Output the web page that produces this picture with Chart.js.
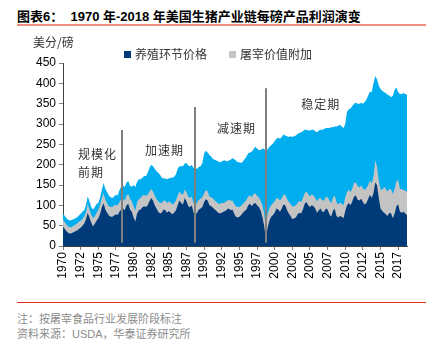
<!DOCTYPE html>
<html>
<head>
<meta charset="utf-8">
<script src="https://cdn.jsdelivr.net/npm/chart.js@4.4.0/dist/chart.umd.min.js"></script>
<style>
  body { margin: 0; width: 437px; height: 347px; background: #fff; position: relative; overflow: hidden;
         font-family: "Liberation Sans", "Noto Sans CJK SC", sans-serif; }
  #title { position: absolute; left: 17px; top: 6px; font-size: 13px; font-weight: bold; color: #000; white-space: nowrap; }
  #topline { position: absolute; left: 17px; top: 24px; width: 409px; height: 2px; background: #f28b82; }
  #box { position: absolute; left: 0; top: 30px; width: 437px; height: 268px; }
  #botline { position: absolute; left: 17px; top: 302px; width: 409px; height: 1px; background: #e0301e; }
  .note { position: absolute; left: 17px; font-size: 11px; color: #8c8c8c; white-space: nowrap; }
</style>
</head>
<body>
<div id="title">图表6：&nbsp; 1970 年-2018 年美国生猪产业链每磅产品利润演变</div>
<div id="topline"></div>
<div id="box"><canvas id="myChart" width="437" height="268"></canvas></div>
<div id="botline"></div>
<div class="note" style="top:310px">注：按屠宰食品行业发展阶段标注</div>
<div class="note" style="top:325px">资料来源：USDA，华泰证券研究所</div>
<script>
// quarterly values, cents per pound, 1970Q1 .. 2018Q4
const farmValue = [
  48,42,36,32, 30,32,34,36, 38,42,45,50, 55,65,82,70, 58,48,55,62,
  68,78,95,105, 90,82,75,72, 72,75,78,76, 84,90,92,88, 100,104,90,84,
  70,60,80,88, 90,95,98,96, 100,110,118,112, 100,92,84,80, 82,90,88,82,
  86,82,78,82, 88,100,112,106, 102,118,110,98, 95,100,82,78, 82,90,92,96,
  108,115,112,100, 98,94,90,86, 82,80,82,84, 86,90,92,88, 90,80,72,70,
  72,76,82,86, 90,100,104,98, 104,106,100,96, 88,72,50,18, 45,62,72,76,
  82,92,90,84, 92,102,100,88, 80,74,66,68, 70,78,82,80, 90,104,108,100,
  96,100,98,92, 82,88,92,84, 84,92,90,78, 72,86,92,74, 70,74,72,68,
  86,100,106,100, 110,122,124,114, 112,116,108,102, 106,116,126,118, 130,156,150,118,
  92,86,82,78, 74,82,80,68, 80,98,102,84, 82,84,80,76
];
const slaughterAdd = [
  16,17,16,16, 16,15,16,17, 17,18,17,17, 17,18,21,20, 19,20,18,20,
  20,22,23,25, 24,23,23,24, 24,25,23,24, 24,25,24,23, 24,24,26,26,
  28,27,28,27, 28,29,27,28, 26,24,22,22, 24,23,26,26, 24,22,23,24,
  24,25,24,23, 24,24,22,22, 24,21,22,24, 23,22,24,25, 24,23,24,24,
  22,23,22,21, 22,23,22,22, 22,24,24,22, 22,21,22,23, 22,24,26,26,
  24,23,22,22, 24,22,21,22, 24,24,23,24, 24,28,30,27, 35,30,28,30,
  28,26,27,28, 26,24,26,28, 28,30,31,30, 30,28,29,28, 28,26,26,27,
  26,27,26,26, 28,28,26,28, 28,29,30,34, 34,32,33,34, 32,33,32,32,
  34,32,33,32, 32,33,32,34, 32,33,34,36, 36,34,35,36, 40,54,46,42,
  48,52,64,62, 60,58,59,60, 60,61,60,56, 58,54,56,58
];
const retailAdd = [
  16,15,16,16, 17,17,16,15, 16,15,17,17, 16,17,19,20, 19,22,22,21,
  18,18,20,25, 26,27,26,24, 22,22,25,24, 30,31,32,34, 32,32,32,36,
  52,58,50,49, 46,44,47,48, 54,58,60,62, 66,69,70,69, 62,54,55,58,
  56,61,66,65, 64,66,62,68, 70,64,72,76, 78,78,86,87, 84,81,80,84,
  98,96,96,103, 100,97,100,102, 104,102,102,104, 102,97,96,101, 104,110,112,110,
  110,105,104,106, 106,106,105,112, 110,114,117,116, 124,140,158,191, 158,152,148,146,
  148,146,149,152, 150,148,146,154, 160,166,171,172, 172,170,167,172, 164,156,152,157,
  162,159,162,164, 170,168,168,174, 176,169,170,178, 186,174,169,186, 194,191,190,190,
  180,198,197,206, 202,195,196,202, 206,203,208,216, 218,220,219,224, 230,208,214,234,
  246,244,232,236, 238,230,227,242, 244,231,216,234, 234,238,238,238
];
const firstYear = 1970;
const quarters = [];
for (let i = 0; i < farmValue.length; i++) quarters.push(String(firstYear + Math.floor(i / 4)));
const tickLabels = ['1970','1972','1975','1977','1980','1982','1985','1987','1990','1992',
                    '1995','1997','2000','2002','2005','2007','2010','2012','2015','2017'];

// phase dividers (x as quarter index) and their top values
const phaseAt = [33.5, 75, 115];
const phaseTop = [285, 342, 388];
const phaseBottom = 8;
const phaseNotes = [
  { text: '规模化', at: 8.5, value: 224 },
  { text: '前期', at: 8.5, value: 180 },
  { text: '加速期', at: 46.5, value: 236 },
  { text: '减速期', at: 87.3, value: 290 },
  { text: '稳定期', at: 135, value: 347 }
];

const cjk = '"Noto Sans CJK SC", sans-serif';

const overlay = {
  id: 'overlay',
  afterDatasetsDraw(chart) {
    const { ctx, scales: { x, y } } = chart;
    ctx.save();
    ctx.strokeStyle = '#7f7f7f';
    ctx.lineWidth = 2;
    phaseAt.forEach((p, i) => {
      const px = Math.round(x.getPixelForValue(p));
      ctx.beginPath();
      ctx.moveTo(px, y.getPixelForValue(phaseBottom));
      ctx.lineTo(px, y.getPixelForValue(phaseTop[i]));
      ctx.stroke();
    });
    ctx.font = '12px ' + cjk;
    ctx.fillStyle = '#333';
    ctx.textBaseline = 'middle';
    ctx.textAlign = 'left';
    ctx.letterSpacing = '1px';
    phaseNotes.forEach(n => ctx.fillText(n.text, x.getPixelForValue(n.at), y.getPixelForValue(n.value)));
    ctx.letterSpacing = '0px';
    // unit label above the y axis
    ctx.fillText('美分/磅', 33, 12);
    // legend, first two series only
    let lx = 124;
    chart.data.datasets.slice(0, 2).forEach(ds => {
      ctx.fillStyle = ds.backgroundColor;
      ctx.fillRect(lx, 21, 7, 7);
      ctx.fillStyle = '#333';
      ctx.fillText(ds.label, lx + 11, 24.5);
      lx += 11 + ctx.measureText(ds.label).width + 22;
    });
    ctx.restore();
  }
};

const ctx = document.getElementById('myChart').getContext('2d');
const chart = new Chart(ctx, {
  type: 'line',
  data: {
    labels: quarters,
    datasets: [
      { label: '养殖环节价格', data: farmValue, backgroundColor: '#003a78', fill: 'origin' },
      { label: '屠宰价值附加', data: slaughterAdd, backgroundColor: '#c4c4c4', fill: 'origin' },
      { label: '零售价值附加', data: retailAdd, backgroundColor: '#00aeef', fill: 'origin' }
    ]
  },
  options: {
    responsive: false,
    animation: false,
    layout: { padding: { top: 33, right: 30, left: 0, bottom: 0 } },
    elements: { line: { borderWidth: 0, tension: 0 }, point: { radius: 0 } },
    plugins: { legend: { display: false }, tooltip: { enabled: false } },
    scales: {
      x: {
        grid: { drawOnChartArea: false, tickLength: 4, color: '#808080' },
        border: { color: '#404040' },
        ticks: {
          autoSkip: false, minRotation: 90, maxRotation: 90, padding: 2, color: '#000',
          font: { size: 12, family: 'Liberation Sans' },
          callback: (v, i) => (i % 10 === 0 ? tickLabels[i / 10] : null)
        },
        afterFit: s => { s.height = 52; }
      },
      y: {
        stacked: true, min: 0, max: 450,
        grid: { drawOnChartArea: false, tickLength: 4, color: '#808080' },
        border: { color: '#404040' },
        ticks: { stepSize: 50, padding: 3, color: '#000', font: { size: 12, family: 'Liberation Sans' } },
        afterFit: s => { s.width = 63; }
      }
    }
  },
  plugins: [overlay]
});
</script>
</body>
</html>
